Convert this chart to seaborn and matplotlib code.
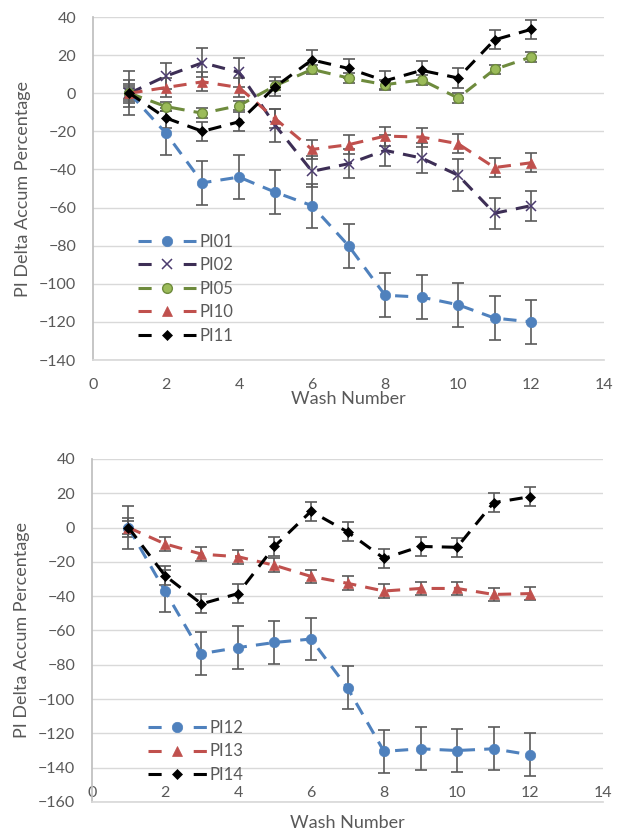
import matplotlib
matplotlib.use("Agg")
import matplotlib.pyplot as plt
from matplotlib.lines import Line2D
import numpy as np
import pandas as pd
import seaborn as sns

# ---- data -------------------------------------------------------------
wash = [1, 2, 3, 4, 5, 6, 7, 8, 9, 10, 11, 12]

top_names = ["PI01", "PI02", "PI05", "PI10", "PI11"]
pi01 = [0, -21, -47, -44, -52, -59, -80, -106, -107, -111, -118, -120]
pi02 = [0, 9, 16, 11, -17, -41, -37, -30, -34, -43, -63, -59]
pi05 = [0, -7, -10.5, -6.5, 4, 12.5, 8, 4.5, 7, -2.5, 12.5, 19]
pi10 = [0, 3, 6, 3, -13.5, -29.5, -27, -22.5, -23, -26.5, -39, -36.5]
pi11 = [0, -13, -20, -15, 3.5, 17.5, 13, 6.5, 12, 8, 28, 33.5]
pi01_err = [11.5, 11.5, 11.5, 11.5, 11.5, 11.5, 11.5, 11.5, 11.5, 11.5, 11.5, 11.5]
pi02_err = [7, 7, 7.5, 7.5, 8.5, 8, 7.5, 8, 8, 8.3, 8, 7.8]
pi05_err = [3, 2.5, 2.5, 2.5, 2.5, 2.5, 2.5, 2.5, 2.5, 2.5, 2.5, 2.5]
pi10_err = [4, 5, 5, 5, 5, 5, 5, 5, 5, 5, 5, 5]
pi11_err = [5, 5, 5, 5, 5, 5, 5, 5, 5, 5, 5, 5]

bottom_names = ["PI12", "PI13", "PI14"]
pi12 = [0, -37, -73.5, -70, -67, -65, -93.5, -130.5, -129, -130, -129, -132.5]
pi13 = [0, -9.5, -15.5, -17, -22, -28.5, -32.5, -37, -35.5, -35.5, -39, -38.5]
pi14 = [0, -28, -44.5, -38.5, -11, 9.5, -2.5, -18, -11, -11.5, 14.5, 18]
pi12_err = [12.5, 12.5, 12.5, 12.5, 12.5, 12.5, 12.5, 12.5, 12.5, 12.5, 12.5, 12.5]
pi13_err = [4, 4, 4, 4, 4, 4, 4, 4, 4, 4, 4, 4]
pi14_err = [5.5, 5.5, 5.5, 5.5, 5.5, 5.5, 5.5, 5.5, 5.5, 5.5, 5.5, 5.5]

# ---- styling ----------------------------------------------------------
sns.set_theme(style="white")
plt.rcParams["font.family"] = ["Lato", "DejaVu Sans"]

TEXT = "#595959"
GRID = "#d9d9d9"
ERR = "#5a5a5a"

styles = {
    "PI01": dict(color="#4F81BD", marker="o", ms=7.5, mfc="#4F81BD", mec="#4F81BD", mew=0.5),
    "PI02": dict(color="#3D2E55", marker="x", ms=7.5, mfc="#4B3B6E", mec="#4B3B6E", mew=1.1),
    "PI05": dict(color="#6E8B3D", marker="o", ms=7, mfc="#9BBB59", mec="#6E8B3D", mew=1.0),
    "PI10": dict(color="#C0504D", marker="^", ms=7.5, mfc="#C0504D", mec="#C0504D", mew=0.5),
    "PI11": dict(color="#000000", marker="D", ms=5.5, mfc="#000000", mec="#000000", mew=0.5),
    "PI12": dict(color="#4F81BD", marker="o", ms=7.5, mfc="#4F81BD", mec="#4F81BD", mew=0.5),
    "PI13": dict(color="#C0504D", marker="^", ms=7.5, mfc="#C0504D", mec="#C0504D", mew=0.5),
    "PI14": dict(color="#000000", marker="D", ms=5.5, mfc="#000000", mec="#000000", mew=0.5),
}

LW = 2.2
DASH = (0, (4.3, 3))


def draw_panel(ax, names, values, errors, ylim, label_pad_x, xlabel_y, legend_xy):
    df = pd.DataFrame({
        "wash": np.tile(wash, len(names)),
        "value": np.concatenate(values),
        "err": np.concatenate(errors),
        "series": np.repeat(names, len(wash)),
    })
    for name in names:
        sub = df[df["series"] == name]
        st = styles[name]
        ax.errorbar(sub["wash"], sub["value"], yerr=sub["err"], fmt="none",
                    ecolor=ERR, elinewidth=1.2, capsize=4, capthick=1.2, zorder=2)
        sns.lineplot(data=sub, x="wash", y="value", ax=ax, color=st["color"],
                     lw=LW, linestyle=DASH, marker=st["marker"], markersize=st["ms"],
                     markerfacecolor=st["mfc"], markeredgecolor=st["mec"],
                     markeredgewidth=st["mew"], errorbar=None, zorder=3)

    ax.set_xlim(0, 14)
    ax.set_xticks(range(0, 15, 2))
    ax.set_ylim(*ylim)
    ax.set_yticks(range(ylim[0], ylim[1] + 1, 20))
    ax.grid(axis="y", color=GRID, lw=1)
    ax.grid(axis="x", visible=False)
    for side in ["top", "right"]:
        ax.spines[side].set_visible(False)
    ax.spines["left"].set_color("#bfbfbf")
    ax.spines["bottom"].set_color(GRID)
    ax.tick_params(axis="y", length=0, pad=12, labelsize=11.5, labelcolor=TEXT)
    ax.tick_params(axis="x", length=0, pad=label_pad_x, labelsize=11.5, labelcolor=TEXT)

    ax.set_xlabel("Wash Number", fontsize=13, color=TEXT)
    ax.set_ylabel("PI Delta Accum Percentage", fontsize=13, color=TEXT)
    ax.xaxis.label.set_va("center")
    ax.xaxis.set_label_coords(0.5, xlabel_y)
    ax.yaxis.label.set_va("center")
    ax.yaxis.set_label_coords(-0.137, 0.5)

    # legend keys: short dash, marker, short dash
    handles = []
    for name in names:
        st = styles[name]
        handles.append(Line2D([], [], color=st["color"], lw=LW, dashes=(4.3, 10.5),
                              marker=st["marker"], markersize=st["ms"],
                              markerfacecolor=st["mfc"], markeredgecolor=st["mec"],
                              markeredgewidth=st["mew"]))
    ax.legend(handles, names, loc="upper left", bbox_to_anchor=legend_xy,
              frameon=False, borderpad=0, borderaxespad=0, handlelength=3.5,
              handletextpad=0.2, labelspacing=0.45, fontsize=12, labelcolor=TEXT,
              numpoints=1)


fig = plt.figure(figsize=(6.24, 8.38), dpi=100)
ax1 = fig.add_axes([0.149, 0.5704, 0.819, 0.4093])
ax2 = fig.add_axes([0.1474, 0.0430, 0.819, 0.4093])

draw_panel(ax1, top_names, [pi01, pi02, pi05, pi10, pi11],
           [pi01_err, pi02_err, pi05_err, pi10_err, pi11_err],
           (-140, 40), 13, -0.1137, (0.088, 0.368))
draw_panel(ax2, bottom_names, [pi12, pi13, pi14],
           [pi12_err, pi13_err, pi14_err],
           (-160, 40), -11.5, -0.0612, (0.110, 0.239))

fig.savefig("out.png", dpi=100)
